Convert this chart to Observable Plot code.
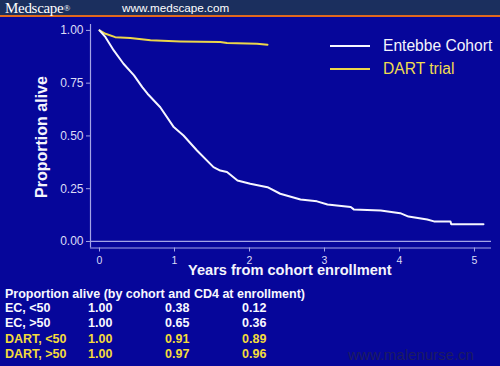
<!DOCTYPE html>
<html>
<head>
<meta charset="utf-8">
<script src="https://cdn.jsdelivr.net/npm/d3@7"></script>
<script src="https://cdn.jsdelivr.net/npm/@observablehq/plot@0.6"></script>
<style>
  html, body { margin: 0; padding: 0; }
  body { width: 500px; height: 366px; overflow: hidden; position: relative; background: #06069a; font-family: "Liberation Sans", Arial, sans-serif; }
  .abs { position: absolute; white-space: nowrap; }
  #header { left: 0; top: 0; width: 500px; height: 15px; background: #1b2f5e; border-bottom: 2px solid #e0691e; }
  #brand { left: 5px; top: 0px; font-family: "Liberation Serif", "Times New Roman", serif; font-size: 15px; line-height: 16px; color: #fff; letter-spacing: -0.3px; }
  #brand sup { font-size: 9px; vertical-align: 2px; }
  #site { left: 122px; top: 1px; font-size: 11.7px; line-height: 14px; color: #fff; }
  #ylab { left: 42px; top: 137px; transform: translate(-50%, -50%) rotate(-90deg); font-weight: bold; font-size: 16px; color: #f4f4fc; }
  #xlab { left: 188px; top: 265.5px; font-weight: bold; font-size: 14.6px; line-height: 9px; height: 9px; color: #f4f4fc; }
  .legline { position: absolute; width: 40px; height: 0; border-top: 2px solid; }
  .legtext { font-size: 15.6px; line-height: 18px; }
  .cell { font-weight: bold; font-size: 12.5px; line-height: 15px; }
  #wm { left: 348px; top: 346px; font-size: 15px; line-height: 18px; color: #1c1c62; }
</style>
</head>
<body>
<div id="chart" class="abs" style="left:0;top:0"></div>
<div id="header" class="abs"></div>
<div id="brand" class="abs">Medscape<sup>®</sup></div>
<div id="site" class="abs">www.medscape.com</div>
<div id="ylab" class="abs">Proportion alive</div>
<div id="xlab" class="abs">Years from cohort enrollment</div>
<div id="legend"></div>
<div id="table"></div>
<div id="wm" class="abs">www.malenurse.cn</div>
<script>
// ---- data ----
const seriesNames = ["Entebbe Cohort", "DART trial"];
const seriesColors = ["#f6f6ff", "#ecd64a"];

const ecYears = [0, 0.08, 0.19, 0.32, 0.46, 0.57, 0.64, 0.81, 0.99, 1.12, 1.30, 1.52, 1.61, 1.70, 1.84, 2.01, 2.24, 2.41, 2.68, 2.90, 3.04, 3.35, 3.39, 3.75, 4.01, 4.12, 4.37, 4.46, 4.68, 4.69, 5.12];
const ecSurv  = [1.00, 0.968, 0.905, 0.842, 0.787, 0.731, 0.700, 0.636, 0.542, 0.502, 0.431, 0.352, 0.336, 0.329, 0.289, 0.273, 0.257, 0.226, 0.199, 0.190, 0.175, 0.163, 0.152, 0.147, 0.134, 0.118, 0.104, 0.095, 0.095, 0.081, 0.081];

const dartYears = [0, 0.08, 0.21, 0.41, 0.68, 1.08, 1.61, 1.70, 2.10, 2.24];
const dartSurv  = [1.00, 0.984, 0.968, 0.964, 0.953, 0.948, 0.945, 0.940, 0.937, 0.932];

const xTicks = [0, 1, 2, 3, 4, 5];
const yTicks = [0, 0.25, 0.5, 0.75, 1];

const tableTitle = "Proportion alive (by cohort and CD4 at enrollment)";
const tableRows = ["EC, <50", "EC, >50", "DART, <50", "DART, >50"];
const tableCol1 = ["1.00", "1.00", "1.00", "1.00"];
const tableCol2 = ["0.38", "0.65", "0.91", "0.97"];
const tableCol3 = ["0.12", "0.36", "0.89", "0.96"];
const tableRowIsDart = [false, false, true, true];

// ---- chart ----
const xDomain = [-0.12, 5.227];
const yDomain = [-0.031, 1.028];
const axisColor = "#a4a4e6";

const ecData = ecYears.map((t, i) => ({t, v: ecSurv[i], s: seriesNames[0]}));
const dartData = dartYears.map((t, i) => ({t, v: dartSurv[i], s: seriesNames[1]}));

const chart = Plot.plot({
  width: 500,
  height: 282,
  marginLeft: 90,
  marginRight: 9,
  marginTop: 24,
  marginBottom: 34.5,
  x: {domain: xDomain},
  y: {domain: yDomain},
  color: {domain: seriesNames, range: seriesColors},
  style: {background: "transparent", color: "#dcdcf6", fontFamily: "Liberation Sans, Arial, sans-serif", fontSize: "12px", overflow: "visible"},
  marks: [
    Plot.ruleX([xDomain[0]], {stroke: axisColor, strokeWidth: 1.2}),
    Plot.ruleY([yDomain[0]], {stroke: axisColor, strokeWidth: 1.2}),
    Plot.ruleY([0], {stroke: axisColor, strokeWidth: 1.2}),
    Plot.axisY({ticks: yTicks, tickFormat: d3.format(".2f"), tickSize: 4, tickPadding: 3, label: null, stroke: axisColor}),
    Plot.axisX({ticks: xTicks, tickFormat: d3.format("d"), tickSize: 4, tickPadding: 4.5, fontSize: 10.5, label: null, stroke: axisColor}),
    Plot.line(dartData, {x: "t", y: "v", stroke: "s", strokeWidth: 2}),
    Plot.line(ecData, {x: "t", y: "v", stroke: "s", strokeWidth: 2})
  ]
});
document.getElementById("chart").appendChild(chart);

// ---- legend ----
const legend = document.getElementById("legend");
const legendTop = [46, 69];
seriesNames.forEach((name, i) => {
  const line = document.createElement("div");
  line.className = "legline";
  line.style.left = "330px";
  line.style.top = (legendTop[i] - 1) + "px";
  line.style.borderColor = seriesColors[i];
  legend.appendChild(line);
  const txt = document.createElement("div");
  txt.className = "abs legtext";
  txt.style.left = "383px";
  txt.style.top = (legendTop[i] - 9) + "px";
  txt.style.color = i === 0 ? "#f4f4fc" : "#f0dc50";
  txt.textContent = name;
  legend.appendChild(txt);
});

// ---- table ----
const table = document.getElementById("table");
function addCell(text, x, yc, color) {
  const d = document.createElement("div");
  d.className = "abs cell";
  d.style.left = x + "px";
  d.style.top = (yc - 7.5) + "px";
  d.style.color = color;
  d.textContent = text;
  table.appendChild(d);
}
addCell(tableTitle, 5, 294, "#f8f8ff");
const rowY = [308, 323, 339, 354];
tableRows.forEach((r, i) => {
  const c = tableRowIsDart[i] ? "#f4dc3a" : "#f8f8ff";
  addCell(r, 5, rowY[i], c);
  addCell(tableCol1[i], 88, rowY[i], c);
  addCell(tableCol2[i], 165, rowY[i], c);
  addCell(tableCol3[i], 242, rowY[i], c);
});
</script>
</body>
</html>
